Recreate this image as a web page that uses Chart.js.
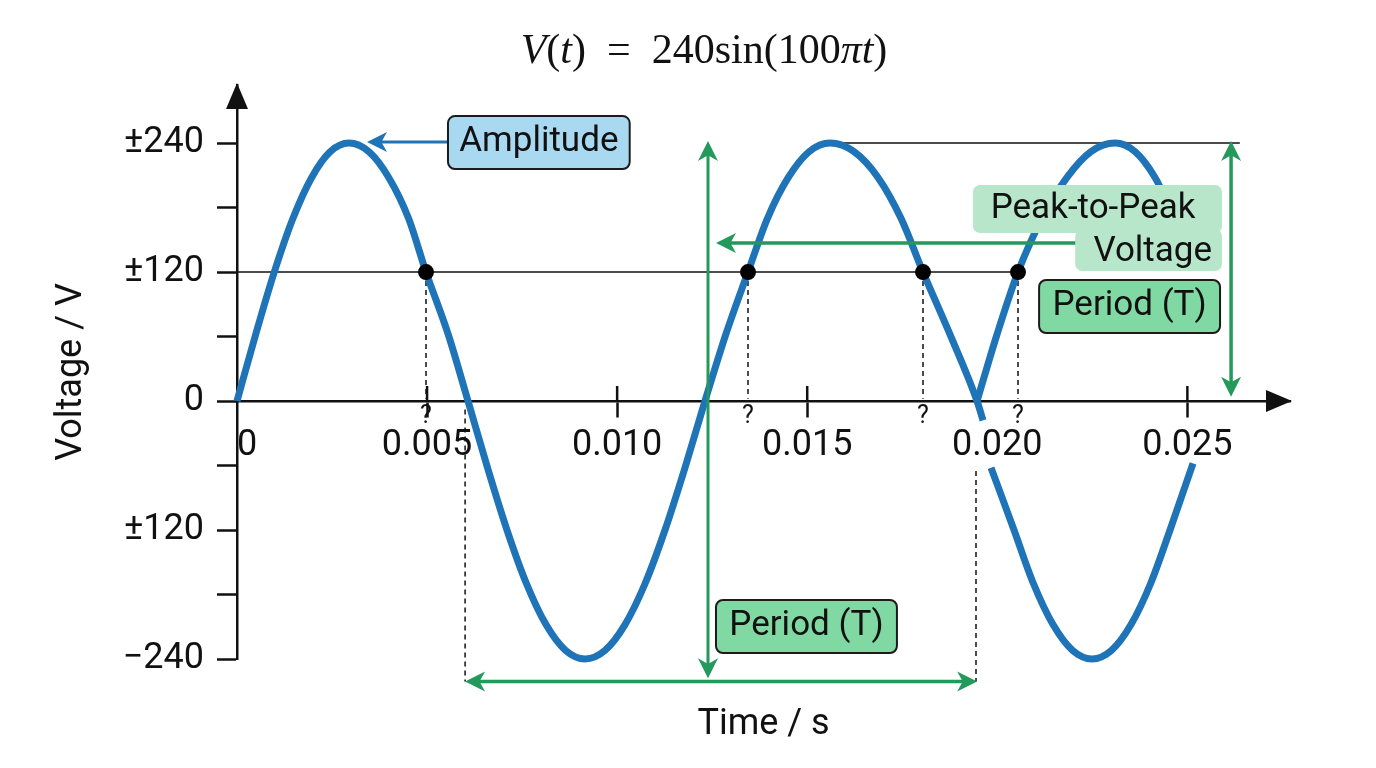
<!DOCTYPE html>
<html>
<head>
  <meta charset="utf-8" />
  <title>V(t) = 240 sin(100πt)</title>
  <script src="https://cdn.jsdelivr.net/npm/chart.js@4.4.1/dist/chart.umd.min.js"></script>
  <style>
    html, body { margin: 0; padding: 0; background: #fff; }
    #wrap { width: 1376px; height: 768px; position: relative; }
  </style>
</head>
<body>
  <div id="wrap"><canvas id="sineChart"></canvas></div>

  <script>
    // --- values (time in s, voltage in V) ---
    const xTickValues = [0, 0.005, 0.010, 0.015, 0.020, 0.025, 0.0277];
    const xTickLabels = ['0', '0.005', '0.010', '0.015', '0.020', '0.025', ''];
    const xTickMarked = [0.005, 0.010, 0.015, 0.025];
    const yTickValues = [-240, -180, -120, -60, 0, 60, 120, 180, 240];
    const yTickLabels = ['\u2212240', '', '\u00b1120', '', '0', '', '\u00b1120', '', '\u00b1240'];

    // main wave, up to the sharp dip near t = 0.0195
    const waveT = [0, 0.000492, 0.000981, 0.001473, 0.001965, 0.002454, 0.002946,
                   0.003467, 0.003991, 0.004512, 0.004972, 0.005556, 0.006077,
                   0.00659, 0.007103, 0.007616, 0.008129, 0.008642, 0.009155,
                   0.009681, 0.010207, 0.010733, 0.011259, 0.011785, 0.012311,
                   0.012859, 0.013442, 0.013955, 0.014503, 0.015052, 0.015599,
                   0.016231, 0.016862, 0.017467, 0.018046, 0.018756, 0.019467, 0.019625];
    const waveV = [0, 62, 120, 170, 208, 232, 240,
                   232, 208, 170, 120, 62, 0,
                   -62, -120, -170, -208, -232, -240,
                   -232, -208, -170, -120, -62, 0,
                   62, 120, 170, 208, 232, 240,
                   232, 208, 170, 120, 62, 0, -18];
    // rising part after the dip (runs in under the label box)
    const riseT = [0.019467, 0.019993, 0.020545, 0.021176, 0.021834, 0.022465, 0.023097,
                   0.023623, 0.024149, 0.024675];
    const riseV = [0, 62, 120, 170, 208, 232, 240, 232, 208, 170];
    // lower trough drawn on the right
    const lowT = [0.019835, 0.02044, 0.020953, 0.021466, 0.021979, 0.022492,
                  0.023005, 0.023518, 0.024031, 0.024544, 0.025149];
    const lowV = [-62, -120, -170, -208, -232, -240, -232, -208, -170, -120, -58];
    // marked points on the 120 V line
    const dotT = [0.004972, 0.013442, 0.018046, 0.020545];
    const dotV = [120, 120, 120, 120];

    // --- annotation layout (data coordinates) ---
    const blue = '#1f74b8';
    const green = '#23995b';
    const ink = '#111';

    const arrows = [
      { t0: 0.00555, v0: 241, t1: 0.00342, v1: 241, color: blue, width: 3, both: false },     // amplitude
      { t0: 0.01239, v0: -258, t1: 0.01239, v1: 242, color: green, width: 3, both: true },    // middle vertical
      { t0: 0.0221, v0: 147, t1: 0.0126, v1: 147, color: green, width: 3.5, both: false },    // peak-to-peak pointer
      { t0: 0.02615, v0: 4, t1: 0.02615, v1: 242, color: green, width: 3.5, both: true },     // right vertical
      { t0: 0.006, v0: -261, t1: 0.01947, v1: -261, color: green, width: 3.5, both: true }    // period span
    ];

    const boxes = [
      { t0: 0.00555, t1: 0.01033, v0: 265.1, v1: 215.8, fill: '#a9d8f1', border: true },
      { t0: 0.01936, t1: 0.02591, v0: 200.9, v1: 156.3, fill: '#b7e6cb', border: false },
      { t0: 0.02205, t1: 0.02591, v0: 160.0, v1: 120.9, fill: '#b7e6cb', border: false },
      { t0: 0.0211, t1: 0.02586, v0: 112.6, v1: 63.3, fill: '#80d9a3', border: true },
      { t0: 0.0126, t1: 0.01736, v0: -185.1, v1: -234.4, fill: '#80d9a3', border: true }
    ];

    const boxTexts = [
      { text: 'Amplitude', t: 0.00794, v: 240.5, align: 'center' },
      { text: 'Peak-to-Peak', t: 0.02252, v: 178.6, align: 'center' },
      { text: 'Voltage', t: 0.02565, v: 138.6, align: 'right' },
      { text: 'Period (T)', t: 0.02348, v: 88, align: 'center' },
      { text: 'Period (T)', t: 0.01498, v: -209.8, align: 'center' }
    ];

    function pts(ts, vs) {
      return ts.map((t, i) => ({ x: t, y: vs[i] }));
    }

    function lineSet(data, color, width, dash) {
      return {
        data: data,
        showLine: true,
        borderColor: color,
        borderWidth: width,
        borderDash: dash || [],
        pointRadius: 0,
        clip: false
      };
    }

    function waveSet(ts, vs) {
      return Object.assign(lineSet(pts(ts, vs), blue, 7), { cubicInterpolationMode: 'monotone' });
    }

    // dashed drops from the marked points, and the two period guides
    const dashed = dotT.map(t => lineSet([{ x: t, y: 120 }, { x: t, y: 2 }], ink, 1.5, [5, 4]));
    dashed.push(lineSet([{ x: 0.006, y: -8 }, { x: 0.006, y: -261 }], ink, 1.5, [5, 4]));
    dashed.push(lineSet([{ x: 0.01944, y: -65 }, { x: 0.01944, y: -261 }], ink, 1.5, [5, 4]));

    function arrowHead(ctx, x, y, ang, len, half) {
      const c = Math.cos(ang), s = Math.sin(ang);
      ctx.beginPath();
      ctx.moveTo(x, y);
      ctx.lineTo(x - len * c + half * s, y - len * s - half * c);
      ctx.lineTo(x - len * 0.72 * c, y - len * 0.72 * s);
      ctx.lineTo(x - len * c - half * s, y - len * s + half * c);
      ctx.closePath();
      ctx.fill();
    }

    // arrows, boxes, little marks and the formula on top of the chart
    const sketchPlugin = {
      id: 'sketch',
      afterDatasetsDraw(chart) {
        const { ctx, chartArea } = chart;
        const xs = chart.scales.x, ys = chart.scales.y;
        const px = t => xs.getPixelForValue(t);
        const py = v => ys.getPixelForValue(v);
        const y0 = py(0);

        ctx.save();

        // upper half of the time-axis ticks
        ctx.strokeStyle = ink;
        ctx.lineWidth = 2.5;
        xTickMarked.forEach(t => {
          ctx.beginPath();
          ctx.moveTo(px(t), y0 - 15);
          ctx.lineTo(px(t), y0);
          ctx.stroke();
        });

        // axis arrowheads
        ctx.fillStyle = ink;
        ctx.beginPath();
        ctx.moveTo(px(0), chartArea.top - 2);
        ctx.lineTo(px(0) - 11, chartArea.top + 24);
        ctx.lineTo(px(0) + 11, chartArea.top + 24);
        ctx.closePath();
        ctx.fill();
        ctx.beginPath();
        ctx.moveTo(chartArea.right + 2, y0);
        ctx.lineTo(chartArea.right - 24, y0 - 11);
        ctx.lineTo(chartArea.right - 24, y0 + 11);
        ctx.closePath();
        ctx.fill();

        // question marks under the dashed drops
        ctx.font = '25px Roboto';
        ctx.textAlign = 'center';
        ctx.textBaseline = 'middle';
        dotT.forEach(t => ctx.fillText('?', px(t), y0 + 16));

        // arrows
        arrows.forEach(a => {
          const x0 = px(a.t0), yA = py(a.v0), x1 = px(a.t1), yB = py(a.v1);
          const ang = Math.atan2(yB - yA, x1 - x0);
          const len = 20, half = 10;
          ctx.strokeStyle = a.color;
          ctx.fillStyle = a.color;
          ctx.lineWidth = a.width;
          const sx = a.both ? x0 + Math.cos(ang) * len * 0.7 : x0;
          const sy = a.both ? yA + Math.sin(ang) * len * 0.7 : yA;
          ctx.beginPath();
          ctx.moveTo(sx, sy);
          ctx.lineTo(x1 - Math.cos(ang) * len * 0.7, yB - Math.sin(ang) * len * 0.7);
          ctx.stroke();
          arrowHead(ctx, x1, yB, ang, len, half);
          if (a.both) arrowHead(ctx, x0, yA, ang + Math.PI, len, half);
        });

        // label boxes
        boxes.forEach(b => {
          const x = px(b.t0), y = py(b.v0);
          const w = px(b.t1) - x, h = py(b.v1) - y;
          ctx.beginPath();
          ctx.roundRect(x, y, w, h, 7);
          ctx.fillStyle = b.fill;
          ctx.fill();
          if (b.border) {
            ctx.strokeStyle = '#1b1b1b';
            ctx.lineWidth = 2;
            ctx.stroke();
          }
        });
        ctx.fillStyle = ink;
        ctx.font = '35px Roboto';
        ctx.textBaseline = 'middle';
        boxTexts.forEach(l => {
          ctx.textAlign = l.align;
          ctx.fillText(l.text, px(l.t), py(l.v));
        });

        // formula title, mixing italic and upright pieces
        const parts = [['V', true], ['(', false], ['t', true], [')', false], ['\u2002=\u2002', false],
                       ['240sin(100', false], ['\u03c0', true], ['t', true], [')', false]];
        const size = 42;
        const fontFor = it => (it ? 'italic ' : '') + size + 'px "Liberation Serif"';
        let total = 0;
        parts.forEach(p => { ctx.font = fontFor(p[1]); total += ctx.measureText(p[0]).width; });
        let cx = 704 - total / 2;
        ctx.textAlign = 'left';
        ctx.textBaseline = 'alphabetic';
        parts.forEach(p => {
          ctx.font = fontFor(p[1]);
          ctx.fillText(p[0], cx, 63);
          cx += ctx.measureText(p[0]).width;
        });

        ctx.restore();
      }
    };

    const axisFont = { family: 'Roboto', size: 36 };

    new Chart(document.getElementById('sineChart'), {
      type: 'scatter',
      data: {
        datasets: [
          { data: pts(dotT, dotV), pointRadius: 8, pointBackgroundColor: '#000', pointBorderWidth: 0, showLine: false },
          waveSet(waveT, waveV),
          waveSet(riseT, riseV),
          waveSet(lowT, lowV),
          lineSet([{ x: 0, y: 120 }, { x: dotT[3], y: 120 }], ink, 1.5),
          lineSet([{ x: 0.01584, y: 240 }, { x: 0.02638, y: 240 }], ink, 1.5)
        ].concat(dashed)
      },
      options: {
        responsive: true,
        maintainAspectRatio: false,
        animation: false,
        layout: { padding: { top: 85, right: 86, bottom: 0, left: 0 } },
        plugins: { legend: { display: false }, tooltip: { enabled: false } },
        scales: {
          x: {
            type: 'linear', min: 0, max: 0.0277, position: { y: 0 },
            afterBuildTicks: s => { s.ticks = xTickValues.map(v => ({ value: v })); },
            ticks: {
              autoSkip: false, maxRotation: 0, align: 'inner', padding: 8,
              font: axisFont, color: ink,
              callback: (v, i) => xTickLabels[i]
            },
            grid: {
              drawOnChartArea: false, tickLength: 15, tickWidth: 2.5,
              tickColor: c => (c.tick && xTickMarked.includes(c.tick.value)) ? ink : 'rgba(0,0,0,0)'
            },
            border: { color: ink, width: 2.5 }
          },
          x2: {
            type: 'linear', min: 0, max: 0.0277, position: 'bottom',
            ticks: { display: false }, grid: { display: false }, border: { display: false },
            title: { display: true, text: 'Time / s', font: axisFont, color: ink, padding: { top: 0, bottom: 21 } },
            afterFit: s => { s.height = 109; }
          },
          y: {
            type: 'linear', min: -240, max: 294, position: 'left',
            afterBuildTicks: s => { s.ticks = yTickValues.map(v => ({ value: v })); },
            ticks: { autoSkip: false, padding: 13, font: axisFont, color: ink, callback: (v, i) => yTickLabels[i] },
            grid: { drawOnChartArea: false, tickLength: 20, tickWidth: 2.5, tickColor: ink },
            border: { color: ink, width: 2.5 },
            title: { display: true, text: 'Voltage / V', font: axisFont, color: ink, padding: { top: 50, bottom: 0 } },
            afterFit: s => { s.width = 237; }
          }
        }
      },
      plugins: [sketchPlugin]
    });
  </script>
</body>
</html>
